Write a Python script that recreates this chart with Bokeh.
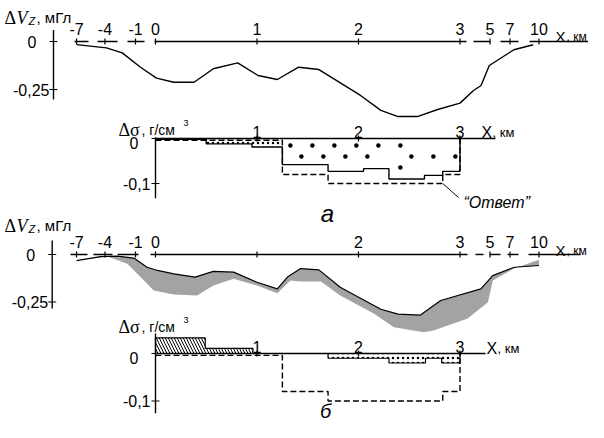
import numpy as np
from bokeh.plotting import figure
from bokeh.models import Range1d, Label, Arrow
from bokeh.core.properties import value
from bokeh.embed import file_html
from bokeh.resources import INLINE

# ---------------- data ----------------
# broken X axis: km values and the position where each is drawn
BREAK_KM = [-7, -4, -1, 0, 1, 2, 3, 5, 7, 10]
BREAK_POS = [-0.778, -0.498, -0.197, 0, 1, 2, 3, 3.296, 3.493, 3.778]

TICKS_KM = [-7, -4, -1, 0, 1, 2, 3, 5, 7, 10]
TICK_LABELS_A = ["-7", "-4", "-1", "0", "1", "2", "3", "5", "7", "10"]
TICK_LABELS_B = ["-7", "-4", "-1", "0", "", "2", "3", "5", "7", "10"]
DENS_TICKS_KM = [1, 2, 3]
DENS_TICK_LABELS = ["1", "2", "3"]
GRAV_YTICKS = [0, -0.25]
GRAV_YLABELS = ["0", "-0,25"]
DENS_YTICKS = [0, -0.1]
DENS_YLABELS = ["0", "-0,1"]

# panel a: observed gravity anomaly, mGal
GA_KM = [-7, -3.85, -2.3, -0.75, 0.01, 0.18, 0.38, 0.57, 0.81, 1.01, 1.20, 1.41,
         1.61, 2.02, 2.22, 2.39, 2.58, 2.78, 3.0, 3.9, 4.4, 4.95, 7.4, 9.4]
GA_MGAL = [-0.016, -0.033, -0.059, -0.134, -0.191, -0.212, -0.212, -0.142, -0.111,
           -0.177, -0.198, -0.134, -0.146, -0.281, -0.359, -0.391, -0.391, -0.354,
           -0.321, -0.255, -0.229, -0.125, -0.043, -0.017]

# panel б: observed and computed gravity anomaly, mGal
GB_OBS_KM = [-7, -4.47, -2.8, -1.17, -0.42, 0.02, 0.18, 0.39, 0.57, 0.77, 1.0, 1.2,
             1.3, 1.43, 1.61, 1.82, 2.22, 2.39, 2.61, 2.81, 4.39, 5.27, 7.45, 10]
GB_OBS_MGAL = [-0.032, -0.011, -0.009, -0.019, -0.067, -0.084, -0.102, -0.119, -0.089,
               -0.093, -0.146, -0.181, -0.119, -0.074, -0.081, -0.172, -0.288, -0.314,
               -0.319, -0.242, -0.181, -0.111, -0.067, -0.058]
GB_CAL_KM = [-3.75, -1.81, -0.75, -0.09, 0.18, 0.41, 0.57, 0.77, 1.0, 1.2, 1.33, 1.43,
             1.63, 1.82, 2.15, 2.35, 2.64, 2.74, 3.51, 4.86, 5.27, 7.41, 10]
GB_CAL_MGAL = [-0.011, -0.049, -0.119, -0.189, -0.211, -0.216, -0.163, -0.128, -0.163,
               -0.204, -0.137, -0.142, -0.142, -0.216, -0.311, -0.383, -0.409, -0.400,
               -0.337, -0.251, -0.137, -0.074, -0.028]

# density model ("Ответ"), g/cm3 — same in both panels
MODEL_EDGES = [0, 1.25, 1.7, 2.83, 3.0]
MODEL_DS = [-0.004, -0.08, -0.10, -0.08]

# panel a: solution
SOL_A_EDGES = [0, 0.5, 0.95, 1.25, 1.7, 2.05, 2.3, 2.65, 2.83, 3.0]
SOL_A_DS = [-0.002, -0.012, -0.019, -0.058, -0.073, -0.067, -0.09, -0.082, -0.073]

# panel б: solution (positive and negative parts)
SOL_B_POS_EDGES = [0, 0.49, 0.96]
SOL_B_POS_DS = [0.033, 0.011]
SOL_B_NEG_EDGES = [1.7, 2.3, 2.66, 2.82, 3.0]
SOL_B_NEG_DS = [-0.01, -0.02, -0.01, -0.02]

# ---------------- helpers ----------------
def to_pos(km):
    return np.interp(np.asarray(km, dtype=float), BREAK_KM, BREAK_POS)


def step_xy(edges, vals, close_left=False):
    e = np.asarray(edges, float)
    v = np.asarray(vals, float)
    xs = list(np.repeat(e, 2)[1:-1])
    ys = list(np.repeat(v, 2))
    xs = xs + [e[-1]]
    ys = ys + [0.0]
    if close_left:
        xs = [e[0]] + xs
        ys = [0.0] + ys
    return to_pos(xs), ys


SANS_N = "Liberation Sans"
SERIF_N = "Liberation Serif"
SANS = value(SANS_N)

W, H = 588, 422
PX0 = 155.0     # canvas px of x = 0
PXKM = 101.5    # px per km (linear part)
NUM_FS = "16px"


def yr(zero_py, px_per_unit):
    return Range1d(-(H - zero_py) / px_per_unit, zero_py / px_per_unit)


p = figure(width=W, height=H, output_backend="svg", toolbar_location=None,
           x_range=Range1d(-PX0 / PXKM, (W - PX0) / PXKM),
           y_range=yr(41, 192), min_border=0,
           x_axis_location=None, y_axis_location=None,
           outline_line_color=None)
p.xgrid.visible = False
p.ygrid.visible = False
DA_PPU = 450
p.extra_y_ranges = {"da": yr(138, DA_PPU), "gb": yr(254, 190), "db": yr(353, 475)}

LW = 1.4
DASH = "6 3"

# ---------- axes (layout) ----------
AX_SEG_A = [(-0.798, -0.660), (-0.571, -0.374), (-0.276, -0.108), (-0.010, 3.064),
            (3.133, 3.300), (3.399, 3.576), (3.685, 4.305)]
AX_SEG_B = [(-0.837, -0.670), (-0.611, -0.424), (-0.374, -0.167), (-0.049, 3.074),
            (3.153, 3.232), (3.291, 3.399), (3.468, 3.576), (3.675, 4.187)]


def haxis(segs, rname, km_ticks, labels, label_off=-7):
    kw = {} if rname is None else {"y_range_name": rname}
    p.segment(x0=[s[0] for s in segs], x1=[s[1] for s in segs],
              y0=[0] * len(segs), y1=[0] * len(segs), line_color="black",
              line_width=LW, **kw)
    xs = to_pos(km_ticks)
    p.scatter(x=xs, y=[0] * len(xs), marker="dash", angle=np.pi / 2, size=6,
              line_color="black", line_width=1.2, **kw)
    p.text(x=xs, y=[0] * len(xs), text=labels, text_align="center",
           text_baseline="bottom", y_offset=label_off, text_font=SANS,
           text_font_size=NUM_FS, text_color="black", **kw)


def vaxis(xpos, y0, y1, yt, ylabels, offs, yoffs, rname):
    kw = {} if rname is None else {"y_range_name": rname}
    p.segment(x0=[xpos], x1=[xpos], y0=[y0], y1=[y1], line_color="black",
              line_width=LW, **kw)
    p.scatter(x=[xpos] * len(yt), y=yt, marker="dash", size=8,
              line_color="black", line_width=1.2, **kw)
    for t, lab, o, yo in zip(yt, ylabels, offs, yoffs):
        p.text(x=[xpos], y=[t], text=[lab], text_align="right",
               text_baseline="middle", x_offset=o, y_offset=yo, text_font=SANS,
               text_font_size=NUM_FS, text_color="black", **kw)


# panel a gravity
haxis(AX_SEG_A, None, TICKS_KM, TICK_LABELS_A)
vaxis((53 - PX0) / PXKM, 0.06, -0.302, GRAV_YTICKS, GRAV_YLABELS, [-17, -4], [0, 0], None)
p.line(to_pos(GA_KM), GA_MGAL, line_color="black", line_width=LW)

# panel a density
p.segment(x0=[0], x1=[(495 - PX0) / PXKM], y0=[0], y1=[0], line_color="black",
          line_width=LW, y_range_name="da")
p.scatter(x=to_pos(DENS_TICKS_KM), y=[0, 0, 0], marker="dash", angle=np.pi / 2,
          size=6, line_color="black", line_width=1.2, y_range_name="da")
p.text(x=to_pos(DENS_TICKS_KM), y=[0, 0, 0], text=DENS_TICK_LABELS, text_align="center",
       text_baseline="bottom", y_offset=-1, text_font=SANS, text_font_size=NUM_FS,
       y_range_name="da")
vaxis(0, 0.003, -0.133, DENS_YTICKS, DENS_YLABELS, [-17, -5], [4, 0], "da")

ea = np.asarray(SOL_A_EDGES)
va = np.asarray(SOL_A_DS)
small = (np.abs(va) <= 0.03) & (np.abs(va) > 0.005)
p.quad(left=to_pos(ea[:-1][small]), right=to_pos(ea[1:][small]), top=0, bottom=va[small],
       fill_alpha=0, line_color=None, hatch_pattern="dot", hatch_color="black",
       hatch_scale=5, hatch_weight=1.0, y_range_name="da")

# sparse staggered dot fill for the deep blocks (texture, derived from block bounds)
big = np.abs(va) > 0.03
lefts, rights, bots = to_pos(ea[:-1][big]), to_pos(ea[1:][big]), va[big]
DX = 22 / PXKM
dot_x, dot_y = [], []
for r in range(5):
    yy = -(7 + 11 * r) / DA_PPU
    xx = lefts.min() + (8 + 11 * (r % 2)) / PXKM
    while xx < rights.max():
        for l_, r_, b_ in zip(lefts, rights, bots):
            if l_ + 3 / PXKM <= xx <= r_ - 4 / PXKM and yy >= b_ + 4 / DA_PPU:
                dot_x.append(xx)
                dot_y.append(yy)
                break
        xx += DX
p.scatter(dot_x, dot_y, size=4.5, fill_color="black", line_color=None,
          y_range_name="da")

sx, sy = step_xy(SOL_A_EDGES, SOL_A_DS)
p.line(sx, sy, line_color="black", line_width=LW, y_range_name="da")
mx, my = step_xy(MODEL_EDGES, MODEL_DS)
p.line(mx, my, line_color="black", line_width=LW, line_dash=DASH, y_range_name="da")

p.add_layout(Arrow(end=None, x_start=float(to_pos(MODEL_EDGES[3])), y_start=MODEL_DS[2],
                   start_units="data", x_end=458, y_end=H - 197, end_units="screen",
                   line_color="black", line_width=1, y_range_name="da"))

# panel б gravity
haxis(AX_SEG_B, "gb", TICKS_KM, TICK_LABELS_B)
vaxis((51.7 - PX0) / PXKM, 0.074, -0.284, GRAV_YTICKS, GRAV_YLABELS, [-17, -4], [0, 0], "gb")
band_x = np.concatenate([to_pos(GB_OBS_KM), to_pos(GB_CAL_KM)[::-1]])
band_y = np.concatenate([GB_OBS_MGAL, GB_CAL_MGAL[::-1]])
p.patch(band_x, band_y, fill_color="#a3a3a3", line_color=None, y_range_name="gb")
p.line(to_pos(GB_OBS_KM), GB_OBS_MGAL, line_color="black", line_width=1.2,
       y_range_name="gb")

# panel б density
p.segment(x0=[0], x1=[(485 - PX0) / PXKM], y0=[0], y1=[0], line_color="black",
          line_width=LW, y_range_name="db")
p.scatter(x=to_pos(DENS_TICKS_KM), y=[0, 0, 0], marker="dash", angle=np.pi / 2,
          size=6, line_color="black", line_width=1.2, y_range_name="db")
p.text(x=to_pos(DENS_TICKS_KM), y=[0, 0, 0], text=DENS_TICK_LABELS, text_align="center",
       text_baseline="bottom", y_offset=-1, text_font=SANS, text_font_size=NUM_FS,
       y_range_name="db")
vaxis(0, 0.042, -0.126, DENS_YTICKS, DENS_YLABELS, [-17, -5], [4, 0], "db")

ep = np.asarray(SOL_B_POS_EDGES)
p.quad(left=to_pos(ep[:-1]), right=to_pos(ep[1:]), bottom=0, top=SOL_B_POS_DS,
       fill_alpha=0, line_color=None, hatch_pattern="left_diagonal_line",
       hatch_color="black", hatch_scale=6, hatch_weight=1, y_range_name="db")
px_, py_ = step_xy(SOL_B_POS_EDGES, SOL_B_POS_DS, close_left=True)
p.line(px_, py_, line_color="black", line_width=1.2, y_range_name="db")

en = np.asarray(SOL_B_NEG_EDGES)
p.quad(left=to_pos(en[:-1]), right=to_pos(en[1:]), top=0, bottom=SOL_B_NEG_DS,
       fill_alpha=0, line_color=None, hatch_pattern="dot", hatch_color="black",
       hatch_scale=5, hatch_weight=1.0, y_range_name="db")
nx, ny = step_xy(SOL_B_NEG_EDGES, SOL_B_NEG_DS, close_left=True)
p.line(nx, ny, line_color="black", line_width=1.2, y_range_name="db")
mx, my = step_xy(MODEL_EDGES, MODEL_DS)
p.line(mx, my, line_color="black", line_width=LW, line_dash=DASH, y_range_name="db")


# ---------- text labels (screen units) ----------
def lab(text, px, py, size, font=SANS_N, style="normal", align="left"):
    p.add_layout(Label(x=px, y=H - py, x_units="screen", y_units="screen",
                       text=text, text_font=font, text_font_size=size,
                       text_font_style=style, text_align=align,
                       text_baseline="alphabetic", text_color="black"))


for base in (17, 225):
    lab("Δ", 4, base, "18px", SERIF_N)
    lab("V", 16, base, "18px", SERIF_N, "italic")
    lab("Z", 28, base + 3, "11px", SANS_N, "italic")
    lab(", мГл", 36, base, "15px")

for base in (129, 326):
    lab("Δσ", 118, base, "18px", SERIF_N)
    lab(", г/см", 141, base, "14px")
    lab("3", 183, base - 7, "9px")

for (x0, base, fx, fk) in ((555, 36, "15px", "12px"), (481, 132, "16px", "13px"),
                          (555, 250, "15px", "12px"), (486, 348, "16px", "13px")):
    lab("X", x0, base, fx)
    lab(", км", x0 + 11, base, fk)

lab("а", 327, 213, "24px", SANS_N, "italic", "center")
lab("б", 325, 410, "20px", SANS_N, "italic", "center")
lab("“Ответ”", 463, 202, "16px", SANS_N, "italic")

open("out.html", "w").write(file_html(p, INLINE))
